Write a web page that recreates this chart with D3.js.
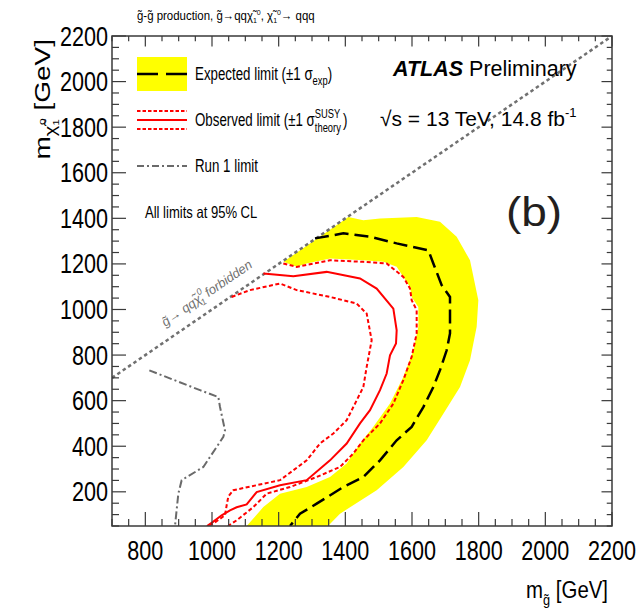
<!DOCTYPE html>
<html>
<head>
<meta charset="utf-8">
<script src="https://cdn.jsdelivr.net/npm/d3@7"></script>
<style>
  body { margin: 0; background: #fff; }
  text { font-family: "Liberation Sans", Arial, sans-serif; }
</style>
</head>
<body>
<svg id="viz" width="639" height="612"></svg>
<script>
// contour points, [m_gluino, m_neutralino] in GeV
var bandOuter = [[1409,1406],[1454,1392],[1504,1399],[1614,1406],[1684,1385],[1734,1319],[1774,1216],[1799,1041],[1794,924],[1774,777],[1744,660],[1694,543],[1644,426],[1574,309],[1494,207],[1384,104],[1348,50]];
var bandInner = [[1104,50],[1154,133],[1204,192],[1284,221],[1354,265],[1404,324],[1444,412],[1484,485],[1534,587],[1574,704],[1604,821],[1619,924],[1619,1011],[1599,1055],[1594,1099],[1574,1143],[1554,1187],[1514,1209],[1454,1216],[1354,1224],[1284,1202],[1254,1187],[1214,1209]];
var expected = [[1309,1312],[1394,1334],[1474,1319],[1554,1290],[1649,1260],[1664,1202],[1689,1107],[1714,1055],[1714,895],[1704,821],[1684,734],[1664,660],[1634,572],[1599,485],[1554,426],[1504,338],[1454,265],[1394,221],[1314,148],[1264,104],[1234,50]];
var observed = [[1154,1158],[1244,1146],[1344,1165],[1444,1136],[1494,1092],[1544,1004],[1554,909],[1552,851],[1534,799],[1524,719],[1504,646],[1474,558],[1444,500],[1404,412],[1354,338],[1284,251],[1204,229],[1134,199],[1104,145],[1074,132],[1054,119],[1029,97],[1003,68],[985,50]];
var observedUp = [[1214,1202],[1254,1187],[1354,1216],[1454,1209],[1524,1202],[1574,1143],[1594,1092],[1599,1041],[1614,997],[1614,895],[1599,792],[1574,690],[1544,587],[1504,500],[1454,426],[1424,368],[1384,309],[1314,265],[1234,221],[1164,192],[1124,133],[1074,75],[1048,50]];
var observedDown = [[1059,1055],[1114,1085],[1204,1114],[1254,1085],[1354,1055],[1434,1026],[1464,982],[1479,865],[1464,748],[1454,660],[1424,572],[1404,514],[1364,456],[1324,412],[1284,338],[1204,251],[1134,229],[1064,207],[1049,180],[1044,141],[1039,97],[1009,66],[988,50]];
var run1 = [[812,733],[964,646],[1019,616],[1024,572],[1039,470],[1034,441],[974,309],[909,251],[899,192],[889,50]];
var diagonal = [[700,700],[2200,2200]];
var xTicks = [800,1000,1200,1400,1600,1800,2000,2200];
var yTicks = [200,400,600,800,1000,1200,1400,1600,1800,2000,2200];

var svg = d3.select("#viz");
var frame = { left: 112, right: 612, top: 36, bottom: 526 };
var x = d3.scaleLinear().domain([700, 2200]).range([frame.left, frame.right]);
var y = d3.scaleLinear().domain([50, 2200]).range([frame.bottom, frame.top]);
var line = d3.line().x(function (d) { return x(d[0]); }).y(function (d) { return y(d[1]); });

// condensed text helper
function ctext(parent, px, py, sx, size) {
  return parent.append("g")
    .attr("transform", "translate(" + px + "," + py + ") scale(" + sx + ",1)")
    .append("text")
    .attr("font-size", size);
}

svg.append("clipPath").attr("id", "clip")
  .append("rect")
  .attr("x", frame.left).attr("y", frame.top)
  .attr("width", frame.right - frame.left).attr("height", frame.bottom - frame.top);

var plot = svg.append("g").attr("clip-path", "url(#clip)");

plot.append("path")
  .attr("d", line(bandOuter.concat(bandInner)) + "Z")
  .attr("fill", "#ffff00");

plot.append("path").attr("d", line(run1))
  .attr("fill", "none").attr("stroke", "#6a6a6a").attr("stroke-width", 2)
  .attr("stroke-dasharray", "8,3,2,3");

plot.append("path").attr("d", line(diagonal))
  .attr("fill", "none").attr("stroke", "#707070").attr("stroke-width", 2.5)
  .attr("stroke-dasharray", "3.5,3");

plot.append("path").attr("d", line(expected))
  .attr("fill", "none").attr("stroke", "#000").attr("stroke-width", 2.5)
  .attr("stroke-dasharray", "14,6");

[observedUp, observedDown].forEach(function (c) {
  plot.append("path").attr("d", line(c))
    .attr("fill", "none").attr("stroke", "#ff0000").attr("stroke-width", 2)
    .attr("stroke-dasharray", "4,2.5");
});
plot.append("path").attr("d", line(observed))
  .attr("fill", "none").attr("stroke", "#ff0000").attr("stroke-width", 2);

// frame + ticks (ROOT style, inside)
svg.append("rect")
  .attr("x", frame.left).attr("y", frame.top)
  .attr("width", frame.right - frame.left).attr("height", frame.bottom - frame.top)
  .attr("fill", "none").attr("stroke", "#3a3a3a").attr("stroke-width", 1.5);

var ticks = svg.append("g").attr("stroke", "#3a3a3a").attr("stroke-width", 1.2);
d3.range(700, 2201, 50).forEach(function (v) {
  var len = v % 200 === 0 ? 14 : 7;
  ticks.append("line").attr("x1", x(v)).attr("x2", x(v)).attr("y1", frame.bottom).attr("y2", frame.bottom - len);
  ticks.append("line").attr("x1", x(v)).attr("x2", x(v)).attr("y1", frame.top).attr("y2", frame.top + len * 0.75);
});
d3.range(50, 2201, 50).forEach(function (v) {
  var len = v % 200 === 0 ? 14 : 7;
  ticks.append("line").attr("y1", y(v)).attr("y2", y(v)).attr("x1", frame.left).attr("x2", frame.left + len);
  ticks.append("line").attr("y1", y(v)).attr("y2", y(v)).attr("x1", frame.right).attr("x2", frame.right - len * 0.75);
});

xTicks.forEach(function (v) {
  ctext(svg, x(v), 560, 0.8, 27).attr("text-anchor", "middle").text(v);
});
yTicks.forEach(function (v) {
  ctext(svg, 108, y(v) + 9.5, 0.8, 27).attr("text-anchor", "end").text(v);
});

// axis titles
var xt = ctext(svg, 608, 598, 0.85, 24).attr("text-anchor", "end");
xt.append("tspan").text("m");
xt.append("tspan").attr("font-size", 15).attr("dy", 7).text("g\u0303");
xt.append("tspan").attr("dy", -7).text(" [GeV]");

var yt = svg.append("g").attr("transform", "translate(50,39) rotate(-90) scale(1,0.8)")
  .append("text").attr("font-size", 28).attr("text-anchor", "end");
yt.append("tspan").text("m");
yt.append("tspan").attr("font-size", 20).attr("dy", 8).text("\u03c7\u0303");
yt.append("tspan").attr("font-size", 12).attr("dy", 3).text("1");
yt.append("tspan").attr("font-size", 12).attr("dx", -6).attr("dy", -17).text("o");
yt.append("tspan").attr("dy", 6).text(" [GeV]");

// title
var tt = ctext(svg, 137, 20, 0.88, 13);
tt.append("tspan").text("g\u0303-g\u0303 production, g\u0303\u2192qq\u03c7\u0303");
tt.append("tspan").attr("font-size", 8).attr("dy", 3).text("1");
tt.append("tspan").attr("font-size", 8).attr("dy", -8).text("0");
tt.append("tspan").attr("dy", 5).text(", \u03c7\u0303");
tt.append("tspan").attr("font-size", 8).attr("dy", 3).text("1");
tt.append("tspan").attr("font-size", 8).attr("dy", -8).text("0");
tt.append("tspan").attr("dy", 5).text("\u2192 qqq");

// legend
var lg = svg.append("g");
lg.append("rect").attr("x", 137).attr("y", 57).attr("width", 50).attr("height", 34).attr("fill", "#ffff00");
lg.append("line").attr("x1", 137).attr("x2", 187).attr("y1", 74).attr("y2", 74)
  .attr("stroke", "#000").attr("stroke-width", 2.5).attr("stroke-dasharray", "21,8");
lg.append("line").attr("x1", 137).attr("x2", 187).attr("y1", 120).attr("y2", 120)
  .attr("stroke", "#ff0000").attr("stroke-width", 2);
[111, 129].forEach(function (ly) {
  lg.append("line").attr("x1", 137).attr("x2", 187).attr("y1", ly).attr("y2", ly)
    .attr("stroke", "#ff0000").attr("stroke-width", 2).attr("stroke-dasharray", "3.5,2");
});
lg.append("line").attr("x1", 137).attr("x2", 187).attr("y1", 166).attr("y2", 166)
  .attr("stroke", "#6a6a6a").attr("stroke-width", 2).attr("stroke-dasharray", "7,3,2,3");

var t1 = ctext(lg, 195, 80, 0.72, 18.5);
t1.append("tspan").text("Expected limit (\u00b11 \u03c3");
t1.append("tspan").attr("font-size", 13).attr("dy", 5).text("exp");
t1.append("tspan").attr("dy", -5).text(")");

var t2 = ctext(lg, 195, 126, 0.72, 18.5).text("Observed limit (\u00b11 \u03c3");
var w2 = t2.node().getComputedTextLength();
var t2g = d3.select(t2.node().parentNode);
t2g.append("text").attr("x", w2).attr("y", -8).attr("font-size", 13).text("SUSY");
t2g.append("text").attr("x", w2).attr("y", 6).attr("font-size", 13).text("theory");
t2g.append("text").attr("x", w2 + 39).attr("font-size", 18.5).text(")");

ctext(lg, 195, 172, 0.72, 18.5).text("Run 1 limit");
ctext(lg, 145, 218, 0.8, 16.3).text("All limits at 95% CL");

// ATLAS label
var at = svg.append("text").attr("x", 393).attr("y", 76).attr("font-size", 21.5);
at.append("tspan").attr("font-weight", "bold").attr("font-style", "italic").text("ATLAS");
at.append("tspan").text(" Preliminary");
var en = svg.append("text").attr("x", 380).attr("y", 126).attr("font-size", 21);
en.append("tspan").text("\u221as = 13 TeV, 14.8 fb");
en.append("tspan").attr("font-size", 13).attr("dy", -9).text("-1");

// kinematic limit label along the diagonal
var ang = Math.atan2(y(2200) - y(700), x(2200) - x(700)) * 180 / Math.PI;
var dl = svg.append("g")
  .attr("transform", "translate(" + x(880) + "," + y(880) + ") rotate(" + ang + ")")
  .attr("fill", "#707070").attr("font-style", "italic");
var d1 = dl.append("text").attr("y", -12).attr("font-size", 13).text("g\u0303\u2192 qq\u03c7\u0303");
var dw = d1.node().getComputedTextLength();
dl.append("text").attr("x", dw).attr("y", -19).attr("font-size", 9).text("0");
dl.append("text").attr("x", dw - 2).attr("y", -8).attr("font-size", 9).text("1");
dl.append("text").attr("x", dw + 7).attr("y", -12).attr("font-size", 13).text("forbidden");

// panel tag
svg.append("g").attr("transform", "translate(534,226) scale(1.15,1)")
  .append("text").attr("text-anchor", "middle").attr("font-family", "Open Sans")
  .attr("font-size", 40).attr("fill", "#231f20").text("(b)");
</script>
</body>
</html>
